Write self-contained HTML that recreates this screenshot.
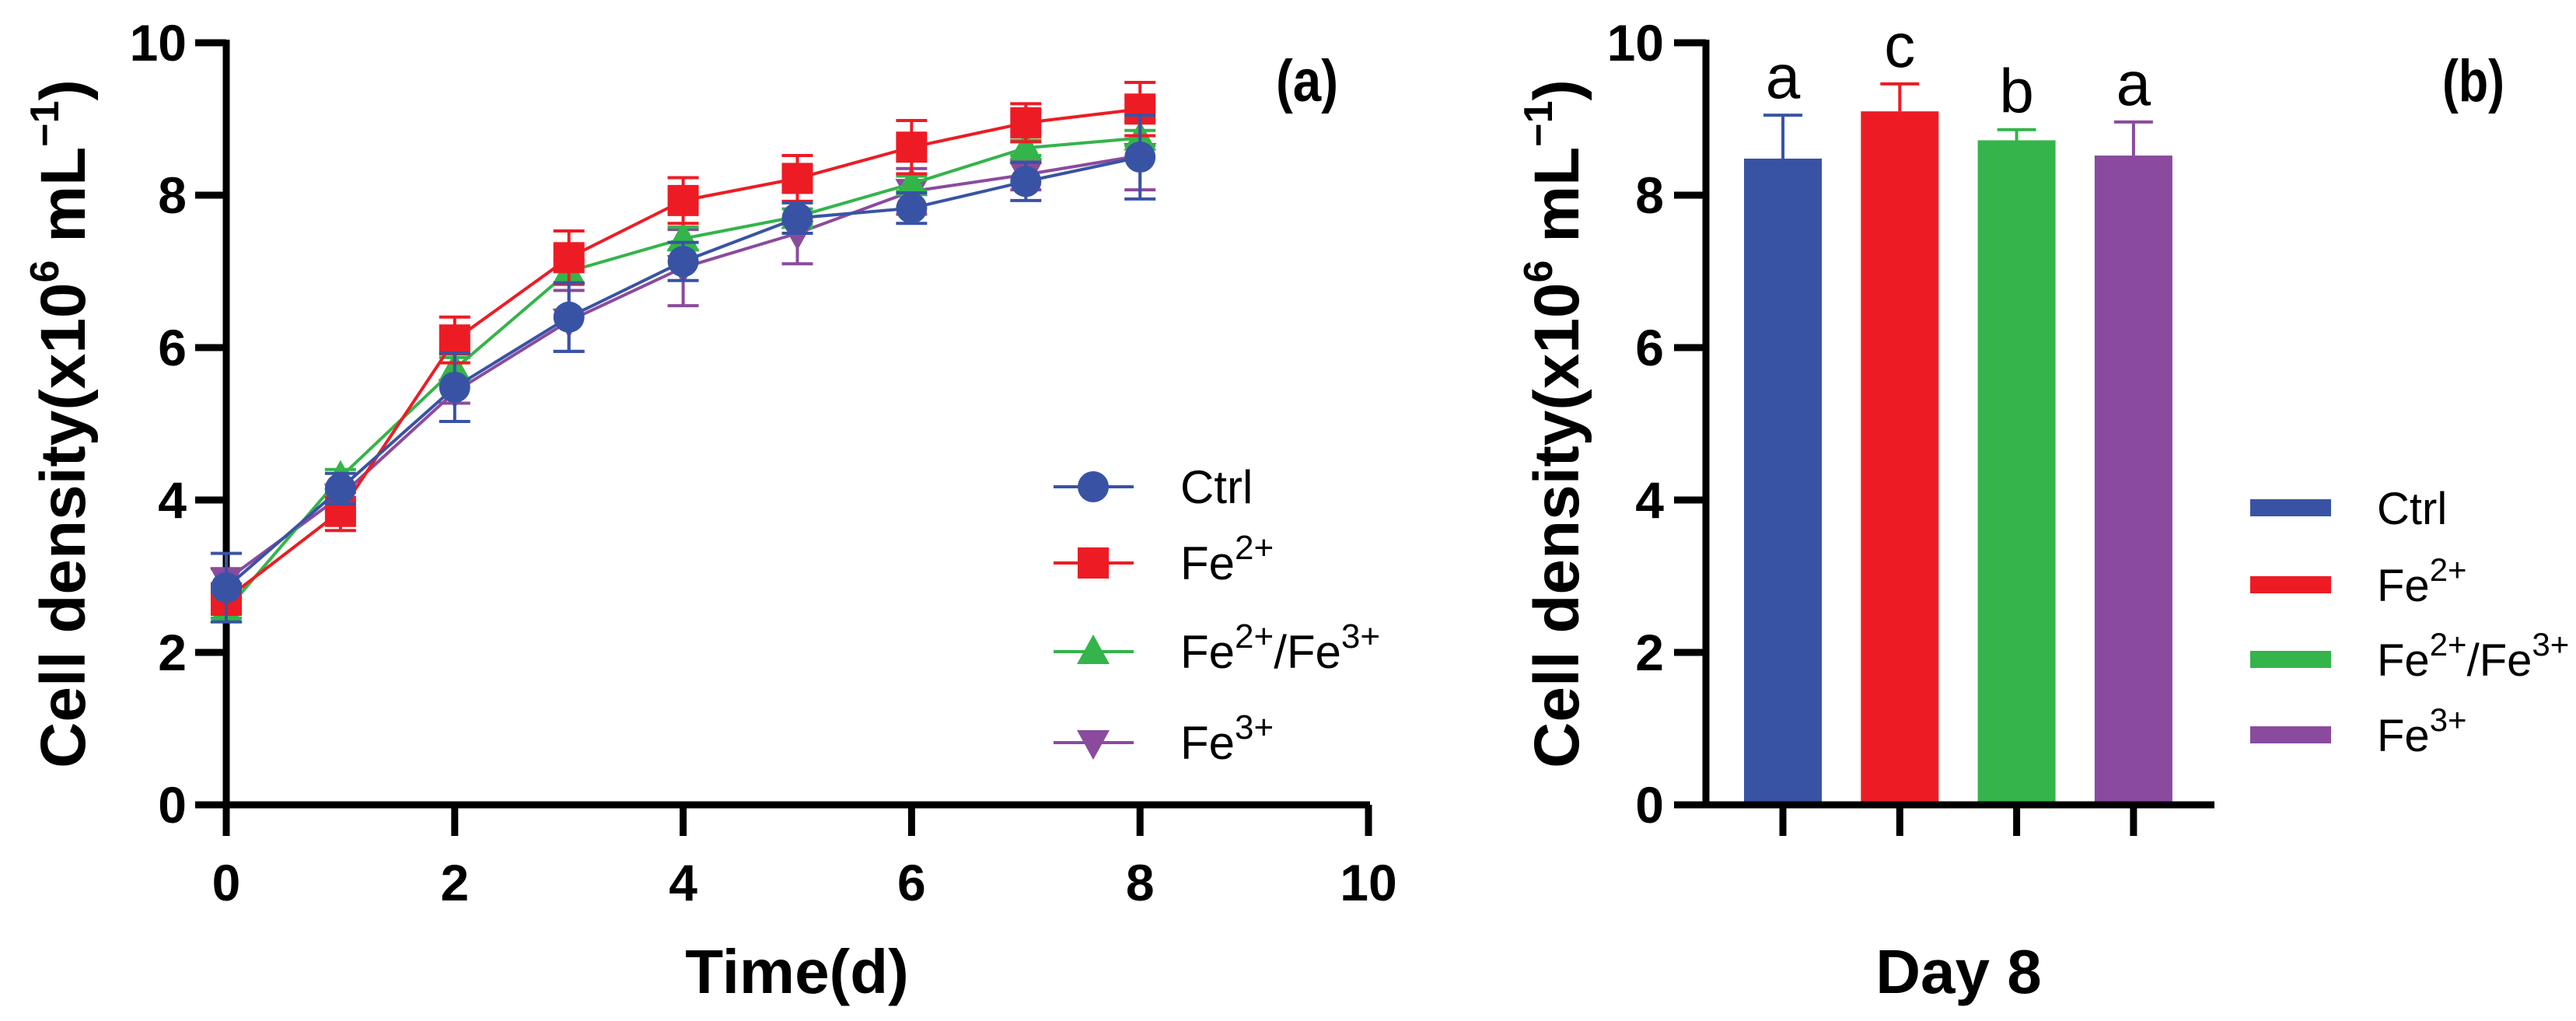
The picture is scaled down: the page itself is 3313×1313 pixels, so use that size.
<!DOCTYPE html>
<html><head><meta charset="utf-8">
<style>
html,body{margin:0;padding:0;background:#fff;}
svg{display:block;}
text{font-family:"Liberation Sans",Arial,sans-serif;}
</style></head>
<body>
<svg id="fig" width="3313" height="1313" viewBox="0 0 3313 1313" xmlns="http://www.w3.org/2000/svg"></svg>
<script>
// ---- Panel (a) data ----
const days = [0,1,2,3,4,5,6,7,8];
const ctrlMean = [2.85,4.15,5.48,6.40,7.13,7.70,7.83,8.18,8.50];
const ctrlErr  = [0.45,0.20,0.45,0.45,0.25,0.20,0.20,0.25,0.55];
const fe2Mean  = [2.70,3.85,6.10,7.18,7.93,8.22,8.63,8.95,9.13];
const fe2Err   = [0.20,0.25,0.30,0.35,0.30,0.30,0.35,0.25,0.35];
const mixMean  = [2.55,4.30,5.72,7.00,7.43,7.72,8.15,8.62,8.75];
const mixErr   = [0.10,0.10,0.15,0.15,0.15,0.10,0.10,0.10,0.10];
const fe3Mean  = [2.95,4.05,5.42,6.35,7.05,7.50,8.05,8.27,8.52];
const fe3Err   = [0.15,0.15,0.15,0.40,0.50,0.40,0.30,0.20,0.45];
const yTicks = [0,2,4,6,8,10];
const xTicks = [0,2,4,6,8,10];
// ---- Panel (b) data ----
const barGroups = ["Ctrl","Fe2+","Fe2+/Fe3+","Fe3+"];
const barMean = [8.48,9.10,8.72,8.52];
const barErr  = [0.57,0.36,0.14,0.44];
const barLetters = ["a","c","b","a"];

const NS = "http://www.w3.org/2000/svg";
const svg = document.getElementById("fig");
const C = {blue:"#3953a4", red:"#ed1c24", green:"#34b44a", purple:"#8a4b9e"};
function el(tag, attrs, parent){
  const e = document.createElementNS(NS, tag);
  for (const k in attrs) e.setAttribute(k, attrs[k]);
  (parent||svg).appendChild(e);
  return e;
}
const yPix = v => 1035 - v*98;
const xA = d => 291 + d*146.9;
const xB = i => 2293 + i*150.3;

// ---------- Panel a axes ----------
const gA = el("g",{});


let ax = el("path",{d:`M291 ${yPix(10)-4} V1035 H1762`, fill:"none", stroke:"#000","stroke-width":9},gA);


yTicks.forEach(t=>{
  let l = el("line",{x1:251,x2:291,y1:yPix(t),y2:yPix(t),stroke:"#000","stroke-width":9},gA);
  
  
  let tx = el("text",{x:240,y:yPix(t)+23,"text-anchor":"end","font-size":66,"font-weight":"bold"},gA);
  tx.textContent = t;
  
  
});
xTicks.forEach(t=>{
  let l = el("line",{x1:xA(t),x2:xA(t),y1:1035,y2:1075,stroke:"#000","stroke-width":9},gA);
  
  
  let tx = el("text",{x:xA(t),y:1158,"text-anchor":"middle","font-size":66,"font-weight":"bold"},gA);
  tx.textContent = t;
  
  
});
let xt = el("text",{x:1025,y:1277,"text-anchor":"middle","font-size":80,"font-weight":"bold"},gA);
xt.textContent = "Time(d)";



function yTitle(cx, cy, parent, name){
  const t = el("text",{transform:`translate(${cx},${cy}) rotate(-90)`,"text-anchor":"middle","font-size":82,"font-weight":"bold"},parent);
  t.innerHTML = 'Cell density(x10<tspan font-size="52" dy="-34">6</tspan><tspan dy="34"> mL</tspan><tspan font-size="52" dy="-34">−1</tspan><tspan dy="34">)</tspan>';
  
  
}
yTitle(109, 545, gA, 'y-axis-title-a');

let la = el("text",{x:1681,y:130,"text-anchor":"middle","font-size":76,"font-weight":"bold",textLength:80,lengthAdjust:"spacingAndGlyphs"},gA);
la.textContent = "(a)";



function marker(type, x, y, color, parent){
  let m;
  if (type==="circle") m = el("circle",{cx:x,cy:y,r:20,fill:color},parent);
  else if (type==="square") m = el("rect",{x:x-20,y:y-20,width:40,height:40,fill:color},parent);
  else if (type==="tri") m = el("path",{d:`M${x} ${y-22} L${x+21} ${y+16} L${x-21} ${y+16}Z`,fill:color},parent);
  else m = el("path",{d:`M${x} ${y+22} L${x+21} ${y-16} L${x-21} ${y-16}Z`,fill:color},parent);
  return m;
}

const series = [
  {name:"fe3", mean:fe3Mean, err:fe3Err, color:C.purple, m:"dtri"},
  {name:"fe2-fe3", mean:mixMean, err:mixErr, color:C.green, m:"tri"},
  {name:"fe2", mean:fe2Mean, err:fe2Err, color:C.red, m:"square"},
  {name:"ctrl", mean:ctrlMean, err:ctrlErr, color:C.blue, m:"circle"}
];
series.forEach(s=>{
  const g = el("g",{},gA);
  
  
  days.forEach((d,i)=>{
    const x = xA(d), y1 = yPix(s.mean[i]+s.err[i]), y2 = yPix(s.mean[i]-s.err[i]);
    const e = el("path",{d:`M${x} ${y1} V${y2} M${x-20} ${y1} H${x+20} M${x-20} ${y2} H${x+20}`,stroke:s.color,"stroke-width":4,fill:"none"},g);
    
    
  });
  const pts = days.map((d,i)=>`${xA(d)},${yPix(s.mean[i])}`).join(" ");
  const pl = el("polyline",{points:pts,fill:"none",stroke:s.color,"stroke-width":4},g);
  
  
  days.forEach((d,i)=>{
    const mk = marker(s.m, xA(d), yPix(s.mean[i]), s.color, g);
    
    
  });
});

// legend a
const legA = [
  {m:"circle",c:C.blue,html:'Ctrl',y:626},
  {m:"square",c:C.red,html:'Fe<tspan font-size="44" dy="-26">2+</tspan>',y:724},
  {m:"tri",c:C.green,html:'Fe<tspan font-size="44" dy="-26">2+</tspan><tspan dy="26">/Fe</tspan><tspan font-size="44" dy="-26">3+</tspan>',y:838},
  {m:"dtri",c:C.purple,html:'Fe<tspan font-size="44" dy="-26">3+</tspan>',y:955}
];
legA.forEach(L=>{
  const g = el("g",{},gA);
  
  
  el("line",{x1:1355,x2:1458,y1:L.y,y2:L.y,stroke:L.c,"stroke-width":4},g);
  marker(L.m,1406,L.y,L.c,g);
  const t = el("text",{x:1518,y:L.y+21,"font-size":60},g);
  t.innerHTML = L.html;
});

// ---------- Panel b ----------
const gB = el("g",{});


barMean.forEach((v,i)=>{
  const col = [C.blue,C.red,C.green,C.purple][i];
  const x = xB(i);
  const e = el("path",{d:`M${x} ${yPix(v)} V${yPix(v+barErr[i])} M${x-25} ${yPix(v+barErr[i])} H${x+25}`,stroke:col,"stroke-width":4,fill:"none"},gB);
  
  
  const r = el("rect",{x:x-50,y:yPix(v),width:100,height:1035-yPix(v),fill:col},gB);
  
  
  const lt = el("text",{x:x,y:yPix(v+barErr[i])-22,"text-anchor":"middle","font-size":80},gB);
  lt.textContent = barLetters[i];
  
  
  const tk = el("line",{x1:x,x2:x,y1:1035,y2:1075,stroke:"#000","stroke-width":9},gB);
  
  
});
let axb = el("path",{d:`M2194 ${yPix(10)-4} V1035 H2848`, fill:"none", stroke:"#000","stroke-width":9},gB);


yTicks.forEach(t=>{
  let l = el("line",{x1:2153,x2:2194,y1:yPix(t),y2:yPix(t),stroke:"#000","stroke-width":9},gB);
  
  
  let tx = el("text",{x:2140,y:yPix(t)+23,"text-anchor":"end","font-size":66,"font-weight":"bold"},gB);
  tx.textContent = t;
  
  
});
yTitle(2030, 545, gB, 'y-axis-title-b');
let xtb = el("text",{x:2519,y:1277,"text-anchor":"middle","font-size":80,"font-weight":"bold"},gB);
xtb.textContent = "Day 8";


let lb = el("text",{x:3181,y:130,"text-anchor":"middle","font-size":76,"font-weight":"bold",textLength:80,lengthAdjust:"spacingAndGlyphs"},gB);
lb.textContent = "(b)";


const legB = [
  {c:C.blue,html:'Ctrl',y:653},
  {c:C.red,html:'Fe<tspan font-size="42" dy="-26">2+</tspan>',y:752},
  {c:C.green,html:'Fe<tspan font-size="42" dy="-26">2+</tspan><tspan dy="26">/Fe</tspan><tspan font-size="42" dy="-26">3+</tspan>',y:848},
  {c:C.purple,html:'Fe<tspan font-size="42" dy="-26">3+</tspan>',y:945}
];
legB.forEach(L=>{
  const g = el("g",{},gB);
  
  
  el("rect",{x:2894,y:L.y-11,width:104,height:22,fill:L.c},g);
  const t = el("text",{x:3057,y:L.y+21,"font-size":58},g);
  t.innerHTML = L.html;
});
</script>
</body></html>
